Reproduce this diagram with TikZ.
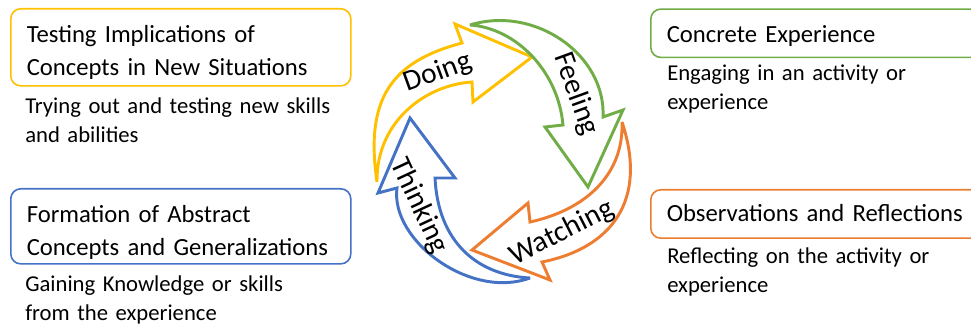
\documentclass[tikz,border=0pt]{standalone}
\usepackage{fontspec}
\setmainfont{Carlito}
\definecolor{doingyellow}{HTML}{FFC000}
\definecolor{feelinggreen}{HTML}{70AD47}
\definecolor{watchingorange}{HTML}{ED7D31}
\definecolor{thinkingblue}{HTML}{4472C4}

\begin{document}
\begin{tikzpicture}[x=0.75pt,y=-0.75pt,
    stagebox/.style={draw=#1, line width=1.2pt, rounded corners=7.5pt,
      anchor=north west, align=left, text width=231pt, inner xsep=12pt, inner ysep=0pt,
      font=\fontsize{18.5}{24.4}\selectfont},
    stagenote/.style={anchor=base west, align=left, text width=240pt, inner sep=0pt,
      font=\fontsize{17}{21.8}\selectfont},
    cyclearrow/.style={draw=#1, line width=2.2pt, line join=miter, miter limit=4},
    cyclelabel/.style={inner sep=0pt, font=\fontsize{22}{26}\selectfont}]
  \useasboundingbox (0,0) rectangle (971,327);
  \clip (0,0) rectangle (971,327);

  % stage boxes
  \node[stagebox=doingyellow, text height=25.3pt, text depth=32.5pt] (testing) at (10,8)
    {Testing Implications of\\Concepts in New Situations};
  \node[stagebox=thinkingblue, text height=25.3pt, text depth=31pt] (formation) at (10,188)
    {Formation of Abstract\\Concepts and Generalizations};
  \node[stagebox=feelinggreen, text height=25pt, text depth=11.25pt] (concrete) at (650,8.3)
    {Concrete Experience};
  \node[stagebox=watchingorange, text height=23.8pt, text depth=12.5pt] (observation) at (650,189)
    {Observations and Reflections};

  % notes under the boxes
  \node[stagenote] (testingnote) at (25,113.3) {Trying out and testing new skills\\and abilities};
  \node[stagenote] (formationnote) at (25,291.7) {Gaining Knowledge or skills\\from the experience};
  \node[stagenote] (concretenote) at (667,80.5) {Engaging in an activity or\\experience};
  \node[stagenote] (observationnote) at (667,263.3) {Reflecting on the activity or\\experience};

  % cycle arrows
  \draw[cyclearrow=doingyellow] (377,182) .. controls (365,100) and (390,62) .. (462,43)
    -- (455,24) -- (532,57) -- (473,102) -- (472,82)
    .. controls (425,85) and (376,122) .. (377,182) -- cycle;
  \draw[cyclearrow=feelinggreen] (470,25) .. controls (535,5) and (606,55) .. (603,117)
    -- (623,110) -- (588,187) -- (545,127) -- (563,125)
    .. controls (558,70) and (515,28) .. (470,25) -- cycle;
  \draw[cyclearrow=watchingorange] (622,122) .. controls (648,200) and (612,248) .. (542,262)
    -- (550,280) -- (472,250) -- (528,203) -- (530,222)
    .. controls (585,210) and (624,175) .. (622,122) -- cycle;
  \draw[cyclearrow=thinkingblue] (530,278) .. controls (470,300) and (390,240) .. (397,188)
    -- (378,193) -- (410,118) -- (455,178) -- (435,178)
    .. controls (438,240) and (475,275) .. (530,278) -- cycle;

  \node[cyclelabel, rotate=20] (doing) at (438,73) {Doing};
  \node[cyclelabel, rotate=-70] (feeling) at (576,94) {Feeling};
  \node[cyclelabel, rotate=27] (watching) at (562,233) {Watching};
  \node[cyclelabel, rotate=-65] (thinking) at (419,206) {Thinking};
\end{tikzpicture}
\end{document}
